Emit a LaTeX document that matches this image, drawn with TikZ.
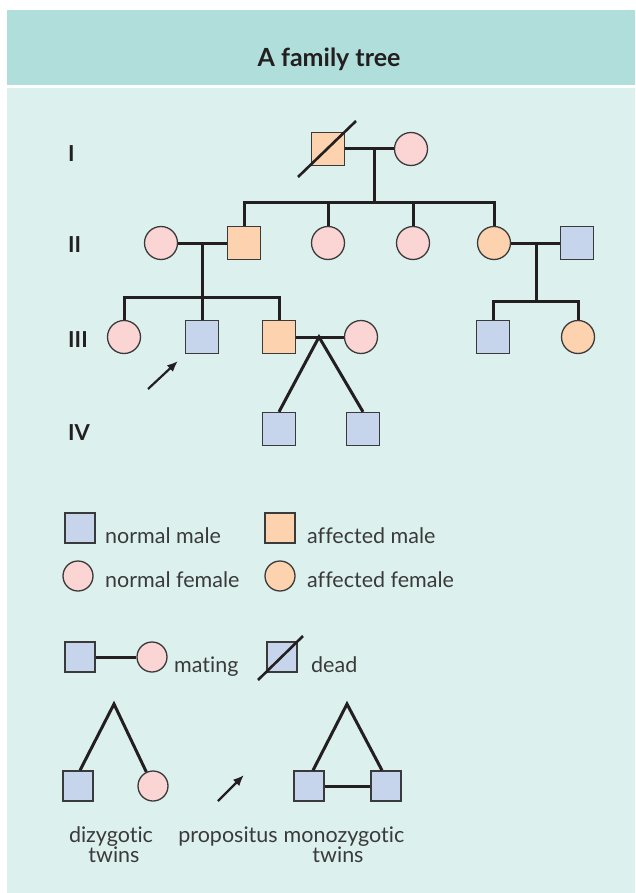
\documentclass[tikz,border=0pt]{standalone}
\usepackage{fontspec}
\setmainfont{Lato}[Ligatures={NoCommon}]
\usetikzlibrary{arrows.meta,calc}
\definecolor{headteal}{HTML}{B0DEDA}
\definecolor{panelbg}{HTML}{DCF0EE}
\definecolor{malefill}{HTML}{C6D4EC}
\definecolor{affectfill}{HTML}{FDD2AE}
\definecolor{femfill}{HTML}{FBD4D4}
\definecolor{ink}{HTML}{231F20}
\definecolor{rim}{HTML}{3A3A3A}
\definecolor{txt}{HTML}{3A3A3A}
\begin{document}
\begin{tikzpicture}[x=1pt,y=-1pt,
  person/.style={draw=rim,line width=1.3pt,inner sep=0pt},
  nmale/.style={person,rectangle,minimum size=33pt,fill=malefill},
  amale/.style={person,rectangle,minimum size=33pt,fill=affectfill},
  nfemale/.style={person,circle,minimum size=33pt,fill=femfill},
  afemale/.style={person,circle,minimum size=33pt,fill=affectfill},
  small/.style={minimum size=30pt},
  link/.style={draw=ink,line width=3pt},
  slash/.style={draw=ink,line width=2.6pt},
  pointer/.style={draw=ink,line width=2.2pt,-{Latex[length=11pt,width=9pt]}},
  gen/.style={font=\bfseries\fontsize{22}{26}\selectfont,text=ink,anchor=base west,inner sep=0pt},
  legtext/.style={font=\fontsize{21.5}{24}\selectfont,text=txt,anchor=base west,inner sep=0pt},
  captext/.style={font=\fontsize{21.5}{24}\selectfont,text=txt,anchor=base,inner sep=0pt},
]
\useasboundingbox (0,0) rectangle (635,893);
% backdrop: header band and panel
\fill[white] (0,0) rectangle (635,893);
\fill[headteal] (7,10) rectangle (635,85);
\fill[panelbg] (7,88) rectangle (635,893);
\node[font=\bfseries\fontsize{25}{28}\selectfont,text=ink,anchor=base,inner sep=0pt] (title) at (329,67) {A family tree};

% generation numerals
\node[gen] (gI)   at (68,162) {I};
\node[gen] (gII)  at (68,252) {II};
\node[gen] (gIII) at (68,347) {III};
\node[gen] (gIV)  at (68,440) {IV};

% generation I
\node[amale]   (i1) at (328,149) {};
\node[nfemale] (i2) at (411,149) {};

% generation II
\node[nfemale] (ii1) at (161,243) {};
\node[amale]   (ii2) at (244,243) {};
\node[nfemale] (ii3) at (328,243) {};
\node[nfemale] (ii4) at (413,243) {};
\node[afemale] (ii5) at (494,243) {};
\node[nmale]   (ii6) at (577,243) {};

% generation III
\node[nfemale] (iii1) at (124,337) {};
\node[nmale]   (iii2) at (202,337) {};
\node[amale]   (iii3) at (279,337) {};
\node[nfemale] (iii4) at (361,337) {};
\node[nmale]   (iii5) at (493,337) {};
\node[afemale] (iii6) at (578,337) {};

% generation IV
\node[nmale] (iv1) at (279,429) {};
\node[nmale] (iv2) at (363,429) {};

% couple I and its children
\coordinate (mI) at (374,149);
\coordinate (sI) at (374,203);
\draw[link] (i1.east) -- (i2.west);
\draw[link] (mI) -- (sI);
\draw[link] (ii2.north) |- (ii5.north |- sI) -- (ii5.north);
\draw[link] (ii3.north) -- (ii3.north |- sI);
\draw[link] (ii4.north) -- (ii4.north |- sI);
\draw[slash] ($(i1)+(-30,28)$) -- ($(i1)+(28,-28)$);

% left couple of generation II
\coordinate (mII) at (202,243);
\coordinate (sII) at (202,297);
\draw[link] (ii1.east) -- (ii2.west);
\draw[link] (mII) -- (sII);
\draw[link] (iii1.north) |- (iii3.north |- sII) -- (iii3.north);
\draw[link] (iii2.north) -- (iii2.north |- sII);

% right couple of generation II
\coordinate (mIIr) at (536,243);
\coordinate (sIIr) at (536,301);
\draw[link] (ii5.east) -- (ii6.west);
\draw[link] (mIIr) -- (sIIr);
\draw[link] (iii5.north) |- (iii6.north |- sIIr) -- (iii6.north);

% couple of generation III with dizygotic twin sons
\coordinate (tw) at (319,337);
\draw[link] (iii3.east) -- (iii4.west);
\draw[link] (iv1.north) -- (tw) -- (iv2.north);

% propositus
\coordinate (pa) at (148,389);
\coordinate (pb) at (178,361);
\draw[pointer] (pa) -- (pb);

% key
\node[nmale,small]   (k1) at (80,528) {};
\node[legtext] (k1t) at (105,543) {normal male};
\node[amale,small]   (k2) at (280,528) {};
\node[legtext] (k2t) at (307,543) {affected male};
\node[nfemale,small] (k3) at (78,576) {};
\node[legtext] (k3t) at (105,587) {normal female};
\node[afemale,small] (k4) at (280,576) {};
\node[legtext] (k4t) at (307,587) {affected female};

\node[nmale,small]   (k5) at (80,657) {};
\node[nfemale,small] (k6) at (152,657) {};
\draw[link] (k5.east) -- (k6.west);
\node[legtext] (k6t) at (174,672) {mating};
\node[nmale,small]   (k7) at (282,657) {};
\draw[slash] ($(k7)+(-24,23)$) -- ($(k7)+(21,-21)$);
\node[legtext] (k7t) at (311,672) {dead};

\coordinate (dza) at (114,704);
\node[nmale,small]   (dz1) at (78,786) {};
\node[nfemale,small] (dz2) at (153,786) {};
\draw[link] ($(dz1.north)+(2,0)$) -- (dza) -- (dz2);
\node[captext] (dzt1) at (111,842) {dizygotic};
\node[captext] (dzt2) at (114,862) {twins};

\coordinate (qa) at (218,801);
\coordinate (qb) at (244,775);
\draw[pointer] (qa) -- (qb);
\node[captext] (pt) at (228,842) {propositus};

\coordinate (mza) at (347,704);
\node[nmale,small] (mz1) at (309,786) {};
\node[nmale,small] (mz2) at (386,786) {};
\draw[link] ($(mz1.north)+(4,0)$) -- (mza) -- ($(mz2.north)+(-4,0)$);
\draw[link] (mz1.east) -- (mz2.west);
\node[captext] (mzt1) at (344,842) {monozygotic};
\node[captext] (mzt2) at (338,862) {twins};
\end{tikzpicture}
\end{document}
